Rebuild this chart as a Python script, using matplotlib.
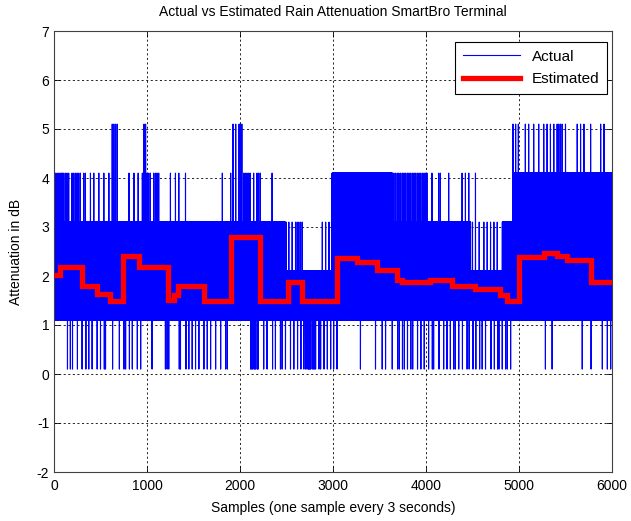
#actual vs estimated rain attenuation, matlab style line chart
import numpy as np
import matplotlib
matplotlib.use('Agg')
import matplotlib.pyplot as plt

plt.rcParams['font.family'] = ['Liberation Sans', 'DejaVu Sans']
plt.rcParams['axes.unicode_minus'] = False

#measured signal: regimes where it toggles between two levels
n_samples = 6000
seg_start = [0, 2490, 2990, 3640, 4480, 4820, 4930]
seg_end = [2490, 2990, 3640, 4480, 4820, 4930, 6000]
seg_low = [1.1, 1.1, 1.1, 1.1, 1.1, 1.1, 1.1]
seg_high = [3.1, 2.1, 4.1, 3.1, 2.1, 3.1, 4.1]

#single samples that jump out of the band
spikes_51 = [626, 644, 662, 680, 968, 985, 1925, 1954, 1990, 2000, 2020,
             4935, 4964, 4993, 5068, 5104, 5158, 5212, 5266, 5302, 5338,
             5374, 5410, 5428, 5446, 5464, 5500, 5626, 5662, 5698, 5770,
             5878, 5914]
spikes_41 = [14, 32, 50, 65, 79, 92, 104, 122, 140, 158, 176, 194, 212, 230,
             248, 266, 284, 320, 338, 392, 428, 482, 536, 590, 806, 860, 905,
             950, 1000, 1018, 1036, 1054, 1072, 1090, 1108, 1126, 1252, 1306,
             1342, 1414, 1810, 1900, 2040, 2057, 2075, 2093, 2110, 2147, 2183,
             2201, 2219, 2345, 3655, 3673, 3691, 3709, 3727, 3745, 3763, 3781,
             3799, 3817, 3835, 3853, 3871, 3889, 3907, 3925, 3943, 3961,
             3979, 3997, 4010, 4064, 4136, 4154, 4244, 4388, 4424, 4460,
             4532]
spikes_31 = [2495, 2525, 2561, 2597, 2615, 2633, 2651, 2669, 2885, 2921,
             2957, 4500, 4572, 4622, 4658, 4694, 4730, 4766]
spikes_01 = [3, 145, 176, 199, 252, 302, 343, 374, 410, 464, 500, 541, 554,
             630, 703, 752, 770, 811, 842, 896, 932, 1054, 1198, 1216, 1234,
             1347, 1360, 1419, 1450, 1486, 1522, 1558, 1612, 1648, 1684,
             1738, 1792, 1846, 1864, 2115, 2125, 2135, 2151, 2160, 2170,
             2188, 2195, 2255, 2291, 2350, 2381, 2435, 2453, 2489, 2543,
             2579, 2619, 2655, 2687, 2705, 2720, 2735, 2741, 2750, 2759,
             2777, 2790, 2800, 2813, 2849, 2867, 2903, 2939, 2975, 3007,
             3043, 3295, 3457, 3529, 3565, 3637, 3695, 3713, 3747, 3767,
             3801, 3837, 3857, 3909, 3945, 3981, 4028, 4068, 4082, 4140,
             4190, 4226, 4262, 4298, 4316, 4352, 4392, 4442, 4464, 4505,
             4536, 4577, 4604, 4640, 4699, 4735, 4770, 4784, 4820, 4856,
             4874, 4910, 5284, 5356, 5680, 5775, 5896, 5950, 5986]

#estimated attenuation (piecewise constant)
est_edges = [0, 65, 300, 460, 600, 740, 910, 1230, 1285, 1330, 1610, 1900,
             2220, 2515, 2665, 3045, 3260, 3470, 3690, 3745, 4045, 4280,
             4530, 4800, 4875, 4995, 5265, 5405, 5515, 5775, 6000]
est_values = [2.02, 2.18, 1.80, 1.63, 1.48, 2.40, 2.18, 1.51, 1.62, 1.80,
              1.48, 2.79, 1.48, 1.87, 1.48, 2.37, 2.29, 2.12, 1.92, 1.88,
              1.92, 1.80, 1.73, 1.62, 1.48, 2.39, 2.46, 2.41, 2.33, 1.88]


def build_actual():
    actual = np.zeros(n_samples)
    for s0, s1, lo, hi in zip(seg_start, seg_end, seg_low, seg_high):
        actual[s0:s1:2] = lo
        actual[s0 + 1:s1:2] = hi
    actual[spikes_31] = 3.1
    actual[spikes_41] = 4.1
    actual[spikes_51] = 5.1
    actual[spikes_01] = 0.1
    return actual


if __name__ == "__main__":
    actual = build_actual()
    x = np.arange(n_samples)

    fig = plt.figure(figsize=(6.31, 5.21), dpi=100)
    ax = fig.add_axes([54 / 631, 49 / 521, 558 / 631, 441 / 521])

    ax.plot(x, actual, color='#0000ff', lw=0.8, label='Actual', zorder=2)
    ax.stairs(est_values, est_edges, baseline=None, color='#ff0000', lw=3.8,
              label='Estimated', zorder=3)

    ax.set_xlim(0, 6000)
    ax.set_ylim(-2, 7)
    ax.set_xticks(np.arange(0, 6001, 1000))
    ax.set_yticks(np.arange(-2, 8, 1))
    ax.tick_params(direction='in', top=True, right=True, labelsize=10,
                   length=4, width=0.6)
    ax.tick_params(axis='x', pad=5)
    for sp in ax.spines.values():
        sp.set_linewidth(0.8)
        sp.set_color('#404040')
    ax.grid(True, color='black', linestyle=(0, (2.5, 3)), lw=0.6)

    ax.set_title('Actual vs Estimated Rain Attenuation SmartBro Terminal',
                 fontsize=10, pad=11)
    ax.set_xlabel('Samples (one sample every 3 seconds)', fontsize=10,
                  labelpad=6)
    ax.set_ylabel('Attenuation in dB', fontsize=10, labelpad=10)

    leg = ax.legend(loc='upper right', bbox_to_anchor=(1 - 5 / 558, 1 - 11 / 441),
                    borderaxespad=0, fontsize=11, fancybox=False,
                    framealpha=1, edgecolor='black',
                    handlelength=3.7, borderpad=0.5, labelspacing=0.55)
    leg.get_frame().set_linewidth(0.8)

    fig.savefig('out.png', dpi=100)
